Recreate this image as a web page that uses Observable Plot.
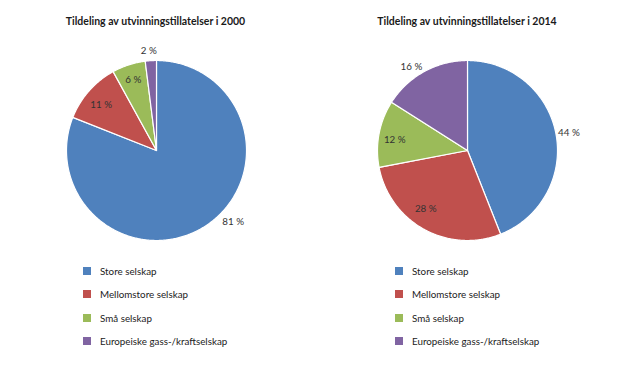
<!DOCTYPE html>
<html><head><meta charset="utf-8">
<script src="https://cdn.jsdelivr.net/npm/d3@7"></script>
<script src="https://cdn.jsdelivr.net/npm/@observablehq/plot@0.6"></script>
<style>
body{margin:0;background:#fff;font-family:Lato,sans-serif;}
#root{position:relative;width:623px;height:368px;overflow:hidden;background:#fff;}
.title{position:absolute;top:15px;text-align:center;font-weight:bold;font-size:10.5px;color:#1a1a1a;white-space:nowrap;}
.pie{position:absolute;top:30px;}
.legend{position:absolute;top:259.5px;font-size:9.8px;color:#222;}
.row{display:flex;align-items:center;height:23.3px;white-space:nowrap;}
.sw{width:8px;height:8px;margin-right:9px;flex:none;}
</style></head><body><div id="root"></div>
<script>
const categories = ["Store selskap", "Mellomstore selskap", "Små selskap", "Europeiske gass-/kraftselskap"];
const colors = ["#4F81BD", "#C0504D", "#9BBB59", "#8064A2"];
const titles = ["Tildeling av utvinningstillatelser i 2000", "Tildeling av utvinningstillatelser i 2014"];
const values2000 = [81, 11, 6, 2];
const values2014 = [44, 28, 12, 16];

// label placement (radius as fraction of pie radius, angle shift in degrees)
const placement = [
  {r: [1.167, 0.80, 0.827, 1.107], shift: [-12.7, -1.6, -0.2, -0.8]},
  {r: [1.144, 0.797, 0.817, 1.122], shift: [0.9, 6.8, -2.2, -4.9]}
];
const layout = [
  {title: {left: 0, width: 311}, pie: {left: 26}, legend: {left: 83}},
  {title: {left: 311, width: 312}, pie: {left: 336.7}, legend: {left: 395}}
];
const R = 90;

const root = document.getElementById("root");

[values2000, values2014].forEach((vals, k) => {
  const data = categories.map((c, i) => ({cat: c, value: vals[i]}));
  const arcs = d3.pie().sort(null).value(d => d.value)(data);
  const pts = [];
  arcs.forEach(a => {
    const n = Math.max(2, Math.ceil((a.endAngle - a.startAngle) / 0.01));
    pts.push({cat: a.data.cat, x: 0, y: 0});
    for (let j = 0; j <= n; j++) {
      const t = a.startAngle + (a.endAngle - a.startAngle) * j / n;
      pts.push({cat: a.data.cat, x: R * Math.sin(t), y: R * Math.cos(t)});
    }
    pts.push({cat: a.data.cat, x: 0, y: 0});
  });
  const labels = arcs.map((a, i) => {
    const m = (a.startAngle + a.endAngle) / 2 + placement[k].shift[i] * Math.PI / 180;
    const rr = R * placement[k].r[i];
    return {x: rr * Math.sin(m), y: rr * Math.cos(m), text: `${a.data.value} %`};
  });

  const t = document.createElement("div");
  t.className = "title";
  t.style.left = layout[k].title.left + "px";
  t.style.width = layout[k].title.width + "px";
  t.textContent = titles[k];
  root.appendChild(t);

  const chart = Plot.plot({
    width: 260, height: 240, margin: 0,
    x: {domain: [-130, 130], axis: null},
    y: {domain: [-120, 120], axis: null},
    color: {domain: categories, range: colors},
    style: {background: "transparent", overflow: "visible", fontFamily: "Lato, sans-serif"},
    marks: [
      Plot.line(pts, {x: "x", y: "y", z: "cat", fill: "cat", stroke: "white", strokeWidth: 1.2, curve: "linear"}),
      Plot.text(labels, {x: "x", y: "y", text: "text", fontSize: 9.8, fill: "#333"})
    ]
  });
  const p = document.createElement("div");
  p.className = "pie";
  p.style.left = layout[k].pie.left + "px";
  p.appendChild(chart);
  root.appendChild(p);

  const lg = document.createElement("div");
  lg.className = "legend";
  lg.style.left = layout[k].legend.left + "px";
  categories.forEach((c, i) => {
    const row = document.createElement("div");
    row.className = "row";
    const sw = document.createElement("span");
    sw.className = "sw";
    sw.style.background = colors[i];
    const tx = document.createElement("span");
    tx.textContent = c;
    row.appendChild(sw); row.appendChild(tx);
    lg.appendChild(row);
  });
  root.appendChild(lg);
});
</script></body></html>
